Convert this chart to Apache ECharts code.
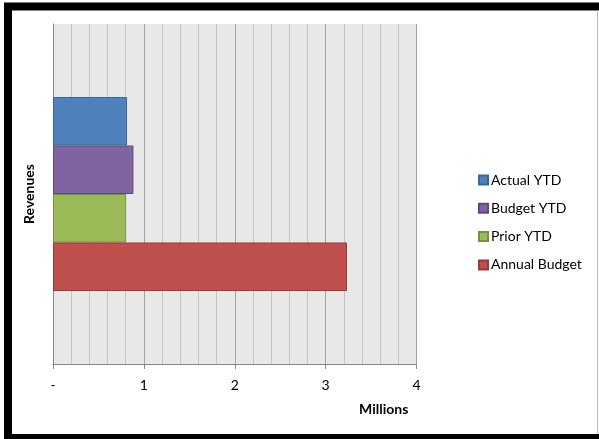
<!DOCTYPE html>
<html>
<head>
<meta charset="utf-8">
<script src="https://cdn.jsdelivr.net/npm/echarts@6/dist/echarts.min.js"></script>
<style>
html,body{margin:0;padding:0;background:#fff;}
#c{width:599px;height:439px;}
</style>
</head>
<body>
<div id="c"></div>
<script>
const categories = ['Revenues'];
const seriesNames = ['Actual YTD', 'Budget YTD', 'Prior YTD', 'Annual Budget'];
const actualYTD = [0.815];
const budgetYTD = [0.885];
const priorYTD = [0.805];
const annualBudget = [3.235];
const xTickLabels = ['-', '1', '2', '3', '4'];

const seriesValues = [actualYTD, budgetYTD, priorYTD, annualBudget];
const fills = ['#4f81bd', '#8064a2', '#9bbb59', '#c0504d'];
const strokes = ['#3c6696', '#5f4b7b', '#779245', '#953b39'];

const chart = echarts.init(document.getElementById('c'), null, {renderer: 'canvas'});
const FONT = 'Lato';

chart.setOption({
  animation: false,
  backgroundColor: '#ffffff',
  graphic: [
    {type: 'rect', shape: {x: 8, y: 6.5, width: 600, height: 431.5}, style: {fill: null, stroke: '#000', lineWidth: 8}, z: 100},
    {type: 'line', shape: {x1: 597.5, y1: 10, x2: 597.5, y2: 434}, style: {stroke: '#bdbdbd', lineWidth: 1}, z: 100},
    {type: 'text', left: 359, top: 402, style: {text: 'Millions', font: 'bold 14px ' + FONT, fill: '#000'}}
  ],
  grid: {
    left: 53, right: 182.5, top: 24, bottom: 75,
    show: true, backgroundColor: '#e8e8e8', borderWidth: 0
  },
  legend: {
    orient: 'vertical',
    left: 478, top: 173, padding: 0,
    itemWidth: 9, itemHeight: 9, itemGap: 14.3,
    icon: 'rect',
    textStyle: {fontFamily: FONT, fontSize: 14, color: '#000', padding: [0, 0, 0, -2]},
    data: seriesNames
  },
  xAxis: {
    type: 'value', min: 0, max: 4, interval: 1,
    axisLine: {show: true, lineStyle: {color: '#868686', width: 1}},
    axisTick: {show: true, length: 5, lineStyle: {color: '#868686'}},
    axisLabel: {
      margin: 14, fontFamily: FONT, fontSize: 14, color: '#000',
      formatter: function (v) { return xTickLabels[Math.round(v)]; }
    },
    splitLine: {show: true, lineStyle: {color: '#a3a3a3', width: 1}},
    minorTick: {show: false, splitNumber: 5},
    minorSplitLine: {show: true, lineStyle: {color: '#c4c4c4', width: 1}}
  },
  yAxis: {
    type: 'category', data: categories,
    name: 'Revenues', nameLocation: 'middle', nameRotate: 90, nameGap: 17,
    nameTextStyle: {fontFamily: FONT, fontSize: 14, fontWeight: 'bold', color: '#000'},
    axisLine: {show: true, lineStyle: {color: '#868686', width: 1}},
    axisTick: {show: false},
    axisLabel: {show: false},
    splitLine: {show: false}
  },
  series: seriesNames.map(function (n, i) {
    return {
      name: n, type: 'bar', data: seriesValues[i],
      barWidth: 48.5, barGap: '0%',
      itemStyle: {color: fills[i], borderColor: strokes[i], borderWidth: 1}
    };
  })
});
</script>
</body>
</html>
